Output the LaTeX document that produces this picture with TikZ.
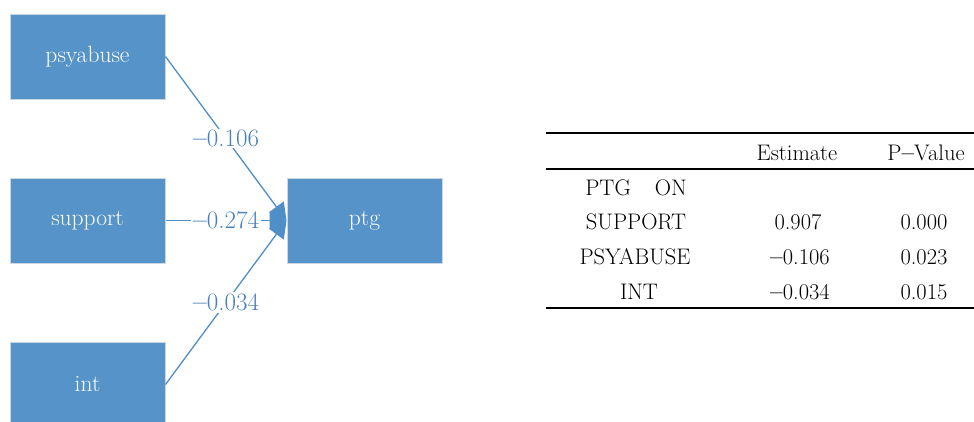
\documentclass[tikz,border=0pt]{standalone}
\usetikzlibrary{arrows.meta}
\definecolor{boxblue}{RGB}{85,147,200}
\definecolor{boxedge}{RGB}{205,215,225}
\definecolor{lineblue}{RGB}{80,142,200}
\definecolor{labblue}{RGB}{72,128,186}
\newcommand{\dsh}{\textbf{--}}
\begin{document}
\begin{tikzpicture}[x=1pt,y=-1pt,
  var/.style={draw=boxedge,line width=1pt,fill=boxblue,minimum width=155pt,minimum height=85pt,inner sep=0pt,text=white,font=\fontsize{23.5}{26}\selectfont},
  path/.style={draw=lineblue,line width=1.3pt,-{Triangle[length=17pt,width=18pt]}},
  coef/.style={fill=white,inner sep=1.5pt,text=labblue,font=\fontsize{25}{28}\selectfont},
  tab/.style={inner sep=0pt,font=\fontsize{22.5}{26}\selectfont},
  rule/.style={line width=1.4pt}]
\useasboundingbox (0,0) rectangle (974,421);
\node[var] (psy) at (87.5,56.5) {psyabuse};
\node[var] (sup) at (87.5,220.5) {support};
\node[var] (int) at (87.5,384.5) {int};
\node[var] (ptg) at (364.5,220.5) {ptg};
\draw[path] (psy.east) -- node[coef] {\dsh0.106} (ptg.west);
\draw[path] (sup.east) -- node[coef] {\dsh0.274} (ptg.west);
\draw[path] (int.east) -- node[coef] {\dsh0.034} (ptg.west);
% table
\coordinate (r1l) at (546,133); \coordinate (r1r) at (974,133);
\coordinate (r2l) at (546,169); \coordinate (r2r) at (974,169);
\coordinate (r3l) at (546,308); \coordinate (r3r) at (974,308);
\draw[rule] (r1l) -- (r1r);
\draw[rule] (r2l) -- (r2r);
\draw[rule] (r3l) -- (r3r);
\node[tab] (hest) at (797,153) {Estimate};
\node[tab] (hpv) at (926,153) {P\dsh Value};
\node[tab] (ptgon) at (636,188) {PTG\hspace{24pt}ON};
\node[tab] (rsup) at (636,222) {SUPPORT};
\node[tab] (rpsy) at (635,257) {PSYABUSE};
\node[tab] (rint) at (639,292) {INT};
\node[tab] (e1) at (798,222) {0.907};
\node[tab] (e2) at (800,257) {\dsh0.106};
\node[tab] (e3) at (800,292) {\dsh0.034};
\node[tab] (p1) at (924,222) {0.000};
\node[tab] (p2) at (924,257) {0.023};
\node[tab] (p3) at (924,292) {0.015};
\end{tikzpicture}
\end{document}
